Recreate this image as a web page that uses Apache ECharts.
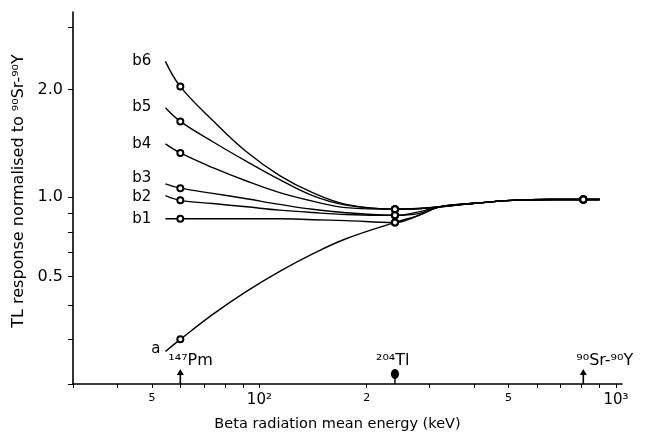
<!DOCTYPE html>
<html>
<head>
<meta charset="utf-8">
<script src="https://cdn.jsdelivr.net/npm/echarts@6/dist/echarts.min.js"></script>
<style>
  html, body { margin: 0; padding: 0; background: #fff; }
  #chart { width: 646px; height: 438px; }
</style>
</head>
<body>
<div id="chart"></div>
<script>
const energy = [54.5, 60, 74, 92, 114, 141, 175, 240, 280, 320, 395, 512, 663, 810, 900];
// TL response, normalised to 90Sr-90Y
const b6 = [2.40, 2.04, 1.64, 1.34, 1.15, 1.03, 0.955, 0.926, 0.93, 0.94, 0.96, 0.98, 0.985, 0.985, 0.985];
const b5 = [1.78, 1.63, 1.43, 1.26, 1.12, 1.01, 0.95, 0.926, 0.93, 0.94, 0.96, 0.98, 0.985, 0.985, 0.985];
const b4 = [1.41, 1.33, 1.21, 1.11, 1.03, 0.975, 0.935, 0.926, 0.928, 0.94, 0.96, 0.98, 0.985, 0.985, 0.985];
const b3 = [1.09, 1.06, 1.025, 0.99, 0.955, 0.925, 0.905, 0.89, 0.91, 0.94, 0.96, 0.98, 0.985, 0.985, 0.985];
const b2 = [1.01, 0.98, 0.96, 0.94, 0.92, 0.906, 0.895, 0.89, 0.90, 0.94, 0.96, 0.98, 0.985, 0.985, 0.985];
const b1 = [0.87, 0.87, 0.87, 0.87, 0.87, 0.865, 0.86, 0.85, 0.89, 0.94, 0.96, 0.98, 0.985, 0.985, 0.985];
const a  = [0.37, 0.40, 0.47, 0.545, 0.62, 0.694, 0.765, 0.85, 0.89, 0.94, 0.96, 0.98, 0.985, 0.985, 0.985];
const curveNames = ['b6', 'b5', 'b4', 'b3', 'b2', 'b1', 'a'];

// beta sources marked on the energy axis
const sourceEnergy = [60, 240, 810];
const sourceNames = ['¹⁴⁷Pm', '²⁰⁴Tl', '⁹⁰Sr-⁹⁰Y'];

// axis ticks and labels
const xTicks = [30, 40, 50, 60, 70, 80, 90, 100, 200, 300, 400, 500, 600, 700, 800, 900, 1000];
const xLabelAt = [50, 100, 200, 500, 1000];
const xLabelText = ['5', '10²', '2', '5', '10³'];
const yTicks = [0.3, 0.4, 0.5, 0.6, 0.7, 0.8, 0.9, 1, 2, 3];
const yLabelAt = [0.6, 1, 2];
const yLabelText = ['0.5', '1.0', '2.0'];

const xMin = 30, xMax = 1040, yMin = 0.3, yMax = 3.3;
const font = 'DejaVu Sans';

function pick(at, text, v) {
  for (let i = 0; i < at.length; i++) {
    if (Math.abs(at[i] - v) / at[i] < 1e-6) return text[i];
  }
  return '';
}

const chart = echarts.init(document.getElementById('chart'));

const curves = [b6, b5, b4, b3, b2, b1, a];
const nameShift = [0, -1, 0, -6, 1, 0, -2];

const lineSeries = curves.map((vals, k) => ({
  name: curveNames[k],
  type: 'line',
  smooth: 0.4,
  symbol: 'circle',
  symbolSize: 0.1,
  lineStyle: { color: '#000', width: 1.4 },
  itemStyle: { color: '#000' },
  z: 2,
  label: {
    show: true,
    position: 'left',
    distance: curveNames[k] === 'a' ? 5 : 14,
    offset: [0, nameShift[k]],
    fontFamily: font,
    fontSize: 15,
    color: '#000',
    formatter: p => (p.dataIndex === 0 ? curveNames[k] : '')
  },
  data: energy.map((e, i) => [e, vals[i]])
}));

// the measured points (open circles) sit at the source energies
const measured = [];
curves.forEach(vals => {
  energy.forEach((e, i) => {
    if (sourceEnergy.indexOf(e) >= 0) measured.push([e, vals[i]]);
  });
});

const arrowPath = 'path://M3.5,0 L7,6 L4.3,6 L4.3,15 L2.7,15 L2.7,6 L0,6 Z';
const dotPath = 'path://M4,0 C6.2,0 8,2.2 8,5 C8,7.8 6.2,10 4,10 C1.8,10 0,7.8 0,5 C0,2.2 1.8,0 4,0 Z M3.3,9 L4.7,9 L4.7,15 L3.3,15 Z';
const labelShift = [-12, -19, -7];

const option = {
  animation: false,
  backgroundColor: '#fff',
  grid: { left: 73, right: 24, top: 12, bottom: 54, outerBoundsMode: 'none' },
  xAxis: {
    type: 'log',
    logBase: 10,
    min: xMin,
    max: xMax,
    name: 'Beta radiation mean energy (keV)',
    nameLocation: 'middle',
    nameGap: 33,
    nameTextStyle: { fontFamily: font, fontSize: 14.5, color: '#000', padding: [0, 20, 0, 0] },
    axisLine: { lineStyle: { color: '#000', width: 1.6 } },
    axisTick: { show: true, inside: false, length: 4, customValues: xTicks, lineStyle: { color: '#000', width: 1 } },
    minorTick: { show: false },
    splitLine: { show: false },
    axisLabel: {
      customValues: xLabelAt,
      margin: 9,
      color: '#000',
      fontFamily: font,
      formatter: v => {
        const t = pick(xLabelAt, xLabelText, v);
        return t.length > 1 ? '{b|' + t + '}' : '{s|' + t + '}';
      },
      rich: {
        s: { fontFamily: font, fontSize: 11, color: '#000' },
        b: { fontFamily: font, fontSize: 15, color: '#000' }
      }
    }
  },
  yAxis: {
    type: 'log',
    logBase: 10,
    min: yMin,
    max: yMax,
    name: 'TL response normalised to ⁹⁰Sr-⁹⁰Y',
    nameLocation: 'middle',
    nameGap: 41,
    nameTextStyle: { fontFamily: font, fontSize: 16, color: '#000', padding: [0, 0, 0, 14] },
    axisLine: { lineStyle: { color: '#000', width: 1.6 } },
    axisTick: { show: true, inside: false, length: 5, customValues: yTicks, lineStyle: { color: '#000', width: 1 } },
    minorTick: { show: false },
    splitLine: { show: false },
    axisLabel: {
      customValues: yLabelAt,
      margin: 10,
      color: '#000',
      fontFamily: font,
      fontSize: 16,
      formatter: v => pick(yLabelAt, yLabelText, v)
    }
  },
  series: lineSeries.concat([
    {
      name: 'measured',
      type: 'scatter',
      symbol: 'emptyCircle',
      symbolSize: 6,
      itemStyle: { color: '#000', borderWidth: 1.2, opacity: 1 },
      z: 5,
      data: measured
    },
    {
      name: 'sources',
      type: 'scatter',
      clip: false,
      z: 6,
      symbolOffset: [0, -7.5],
      itemStyle: { color: '#000', opacity: 1 },
      label: {
        show: true,
        position: 'top',
        align: 'left',
        distance: 0,
        fontFamily: font,
        fontSize: 16,
        color: '#000',
        formatter: p => sourceNames[p.dataIndex]
      },
      data: sourceEnergy.map((e, i) => ({
        value: [e, yMin],
        symbol: i === 1 ? dotPath : arrowPath,
        symbolSize: i === 1 ? [8, 15] : [7, 15],
        label: { offset: [labelShift[i], 0] }
      }))
    }
  ])
};

chart.setOption(option);
</script>
</body>
</html>
